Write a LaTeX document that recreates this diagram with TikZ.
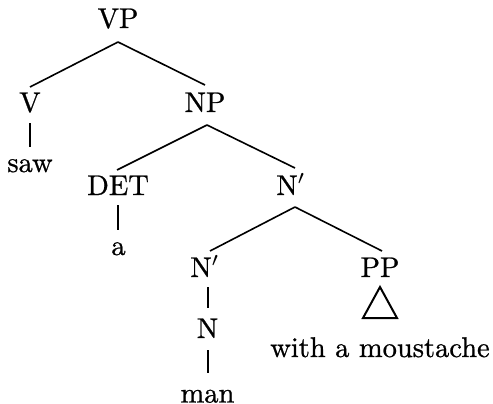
\documentclass[tikz,border=0pt]{standalone}
\usepackage{fontspec}
\newfontfamily\treefont{Latin Modern Roman}[FakeBold=0.8]
\newcommand{\treelbl}[1]{\scalebox{2.85}{\fontsize{10}{12}\treefont #1}}
\begin{document}
\begin{tikzpicture}[x=1pt,y=-1pt,
  lbl/.style={inner sep=0pt, anchor=base},
  edge/.style={line width=1.6pt},
  roof/.style={line width=2pt, line join=miter}]
\useasboundingbox (0,0) rectangle (493,404);
\node[lbl] (VP) at (118,28) {\treelbl{VP}};
\node[lbl] (V) at (30,112) {\treelbl{V}};
\node[lbl] (NP) at (205,112) {\treelbl{NP}};
\node[lbl] (saw) at (30,172) {\treelbl{saw}};
\node[lbl] (DET) at (118,195) {\treelbl{DET}};
\node[lbl] (N1) at (291,195) {\treelbl{N$'$}};
\node[lbl] (a) at (118.5,255) {\treelbl{a}};
\node[lbl] (N2) at (205,277) {\treelbl{N$'$}};
\node[lbl] (PP) at (380,277) {\treelbl{PP}};
\node[lbl] (N) at (207.5,338) {\treelbl{N}};
\node[lbl] (wam) at (380,357) {\treelbl{with a moustache}};
\node[lbl] (man) at (207.5,402.5) {\treelbl{man}};
\draw[edge] ([yshift=-14pt]VP.base) -- ([yshift=25pt]V.base);
\draw[edge] ([yshift=-14pt]VP.base) -- ([yshift=27pt]NP.base);
\draw[edge] ([yshift=-11pt]V.base) -- ([yshift=25pt]saw.base);
\draw[edge] ([xshift=2pt,yshift=-13pt]NP.base) -- ([xshift=-1pt,yshift=25pt]DET.base);
\draw[edge] ([xshift=2pt,yshift=-13pt]NP.base) -- ([xshift=4pt,yshift=27pt]N1.base);
\draw[edge] ([yshift=-10pt]DET.base) -- ([xshift=-0.5pt,yshift=25pt]a.base);
\draw[edge] ([xshift=4pt,yshift=-12pt]N1.base) -- ([xshift=5pt,yshift=26pt]N2.base);
\draw[edge] ([xshift=4pt,yshift=-12pt]N1.base) -- ([xshift=2pt,yshift=26pt]PP.base);
\draw[edge] ([xshift=3pt,yshift=-10pt]N2.base) -- ([xshift=0.5pt,yshift=30pt]N.base);
\draw[edge] ([xshift=0.5pt,yshift=-12pt]N.base) -- ([xshift=0.5pt,yshift=29.5pt]man.base);
\draw[roof] ([yshift=-10pt]PP.base) -- ([xshift=17pt,yshift=39pt]wam.base) -- ([xshift=-17pt,yshift=39pt]wam.base) -- cycle;
\end{tikzpicture}
\end{document}
